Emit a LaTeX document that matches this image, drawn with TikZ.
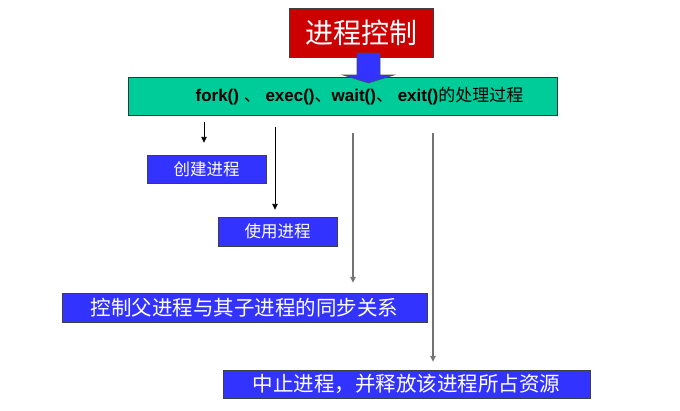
\documentclass[tikz,border=0pt]{standalone}
\usepackage{fontspec}
\setmainfont{Liberation Sans}
\newfontfamily\cjk{Noto Sans CJK SC}
\usetikzlibrary{arrows.meta}
\definecolor{ctlred}{RGB}{204,0,0}
\definecolor{funcgreen}{RGB}{0,204,153}
\definecolor{stepblue}{RGB}{51,51,255}
\tikzset{stepbox/.style={draw=black!75, fill=stepblue, text=white, inner sep=0pt}}
\tikzset{conn/.style={line width=0.9pt, color=black, -{Triangle[length=6pt, width=5.5pt]}}}
\tikzset{lconn/.style={conn, line width=1.1pt, color=black!55}}

\begin{document}
\begin{tikzpicture}[x=1pt, y=-1pt]
        \useasboundingbox[fill=white] (0, 0) rectangle (680, 410);

        \node[draw=black!75, fill=ctlred, text=white, inner sep=0pt, minimum width=144pt, minimum height=49pt,
        font=\cjk\fontsize{28}{30}\selectfont] (Nctl) at (361, 32.5) {进程控制};
        \node[draw=black!80, fill=funcgreen, inner sep=0pt, minimum width=429pt, minimum height=38pt,
        font=\fontsize{17}{19}\selectfont] (Nfunc) at (342.5, 96)
        {\hspace*{34pt}\textbf{fork() }{\cjk 、} \textbf{exec()}{\cjk 、}\textbf{wait()}{\cjk 、} \textbf{exit()}{\cjk 的处理过程}};

        \node[stepbox, minimum width=119pt, minimum height=28pt, font=\cjk\fontsize{16.5}{18}\selectfont] (Ncreate) at (206.5, 169) {创建进程};
        \node[stepbox, minimum width=119pt, minimum height=29pt, font=\cjk\fontsize{16.5}{18}\selectfont] (Nuse) at (277.5, 231.5) {使用进程};
        \node[stepbox, minimum width=365pt, minimum height=29pt, font=\cjk\fontsize{20.5}{22}\selectfont] (Nsync) at (244.5, 307.5) {控制父进程与其子进程的同步关系};
        \node[stepbox, minimum width=367pt, minimum height=28pt, font=\cjk\fontsize{20.5}{22}\selectfont] (Nexit) at (406.5, 384) {中止进程，并释放该进程所占资源};

        \coordinate (S1) at (204, 122);
        \coordinate (S2) at (275, 127);
        \coordinate (S3) at (353, 133);
        \coordinate (S4) at (433, 133);

        \draw [conn, shorten >=12pt] (S1) -- (S1 |- Ncreate.north);
        \draw [conn, shorten >=7pt] (S2) -- (S2 |- Nuse.north);
        \draw [lconn, shorten >=10pt] (S3) -- (S3 |- Nsync.north);
        \draw [lconn, shorten >=8pt] (S4) -- (S4 |- Nexit.north);

        % block arrow from title to the green bar
        \draw[draw=black!70, fill=stepblue, line width=0.6pt] (357, 53) -- (380, 53) -- (380, 75) -- (394, 75)
        -- (368.5, 83) -- (343, 75) -- (357, 75) -- cycle;
    \end{tikzpicture}
\end{document}
